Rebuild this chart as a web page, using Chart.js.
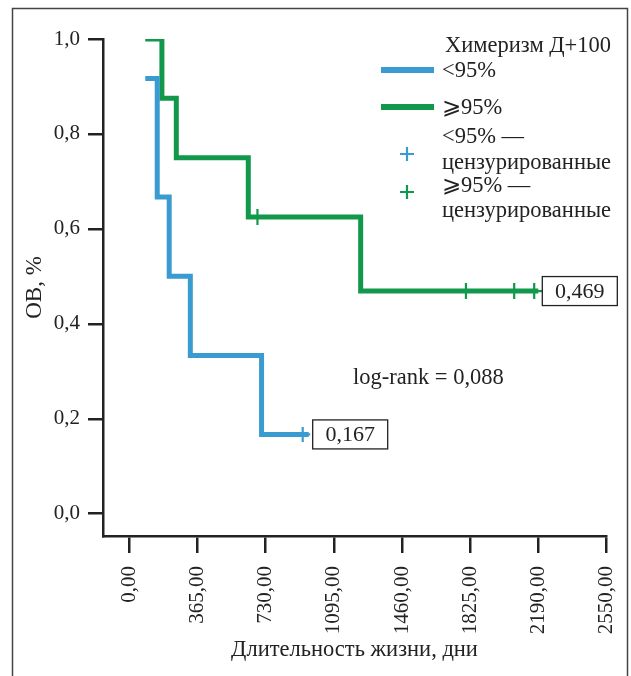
<!DOCTYPE html>
<html>
<head>
<meta charset="utf-8">
<script src="https://cdn.jsdelivr.net/npm/chart.js@4"></script>
<style>
  html, body { margin: 0; padding: 0; background: #fff; }
  #wrap { width: 631px; height: 676px; position: relative; }
</style>
</head>
<body>
<div id="wrap"><canvas id="c" width="631" height="676"></canvas></div>
<script>
// ---- Data ----
const lowTimes = [86, 150, 214, 327, 708, 960];          // <95%, days
const lowSurv  = [0.917, 0.667, 0.5, 0.333, 0.167, 0.167];
const lowCensorTimes = [928];
const lowCensorSurv  = [0.167];

const highTimes = [86, 175, 252, 637, 1238, 2188];       // >=95%, days
const highSurv  = [1.0, 0.875, 0.75, 0.625, 0.469, 0.469];
const highCensorTimes = [686, 1801, 2059, 2166];
const highCensorSurv  = [0.625, 0.469, 0.469, 0.469];

const xTickValues = [0, 365, 730, 1095, 1460, 1825, 2190, 2550];
const yTickValues = [0, 0.2, 0.4, 0.6, 0.8, 1.0];

const legendTitle = 'Химеризм Д+100';
const labelLow = '<95%';
const labelHigh = '⩾95%';
const labelLowCens = ['<95% —', 'цензурированные'];
const labelHighCens = ['⩾95% —', 'цензурированные'];
const logRankText = 'log-rank = 0,088';
const xTitle = 'Длительность жизни, дни';
const yTitle = 'ОВ, %';

const BLUE = '#3a9bd0';
const GREEN = '#12984a';
const INK = '#222';
const FONT = '"Liberation Serif", "Times New Roman", serif';

const toPts = (xs, ys) => xs.map((x, i) => ({ x: x, y: ys[i] }));
const fmt = (v, d) => v.toFixed(d).replace('.', ',');

const overlay = {
  id: 'overlay',
  afterDraw(chart) {
    const ctx = chart.ctx;
    const xs = chart.scales.x, ys = chart.scales.y;
    ctx.save();
    // outer frame
    ctx.strokeStyle = '#444';
    ctx.lineWidth = 1.5;
    ctx.strokeRect(12.5, 8.5, 615, 700);

    // end value boxes
    const boxes = [
      { t: lowTimes[lowTimes.length - 1], s: lowSurv[lowSurv.length - 1] },
      { t: highTimes[highTimes.length - 1], s: highSurv[highSurv.length - 1] }
    ];
    ctx.font = '22px ' + FONT;
    boxes.forEach(b => {
      const px = xs.getPixelForValue(b.t) + 4;
      const py = ys.getPixelForValue(b.s);
      const w = 75, h = 29;
      ctx.fillStyle = '#fff';
      ctx.fillRect(px, py - h / 2, w, h);
      ctx.strokeStyle = INK;
      ctx.lineWidth = 1.3;
      ctx.strokeRect(px, py - h / 2, w, h);
      ctx.fillStyle = INK;
      ctx.textAlign = 'center';
      ctx.textBaseline = 'middle';
      ctx.fillText(fmt(b.s, 3), px + w / 2, py + 1);
    });

    // log-rank text
    ctx.fillStyle = INK;
    ctx.textAlign = 'left';
    ctx.textBaseline = 'middle';
    ctx.font = '22.5px ' + FONT;
    ctx.fillText(logRankText, 353, 378);

    // legend
    ctx.fillText(legendTitle, 445, 46);
    ctx.lineCap = 'butt';
    ctx.lineWidth = 6;
    ctx.strokeStyle = BLUE;
    ctx.beginPath(); ctx.moveTo(381, 70); ctx.lineTo(434, 70); ctx.stroke();
    ctx.strokeStyle = GREEN;
    ctx.beginPath(); ctx.moveTo(381, 107); ctx.lineTo(434, 107); ctx.stroke();
    ctx.fillText(labelLow, 442, 71);
    ctx.fillText(labelHigh, 442, 108);
    ctx.fillText(labelLowCens[0], 442, 137);
    ctx.fillText(labelLowCens[1], 442, 163);
    ctx.fillText(labelHighCens[0], 442, 186);
    ctx.fillText(labelHighCens[1], 442, 211);
    const cross = (cx, cy, col) => {
      ctx.strokeStyle = col; ctx.lineWidth = 2.2;
      ctx.beginPath();
      ctx.moveTo(cx - 7, cy); ctx.lineTo(cx + 7, cy);
      ctx.moveTo(cx, cy - 7); ctx.lineTo(cx, cy + 7);
      ctx.stroke();
    };
    cross(407, 154, BLUE);
    cross(407, 192, GREEN);
    ctx.restore();
  }
};

new Chart(document.getElementById('c'), {
  type: 'line',
  data: {
    datasets: [
      {
        label: labelLow,
        data: toPts(lowTimes, lowSurv),
        stepped: 'before',
        borderColor: BLUE,
        borderWidth: 5,
        pointRadius: 0,
        fill: false,
        borderJoinStyle: 'miter',
        borderCapStyle: 'butt'
      },
      {
        label: labelHigh,
        data: toPts(highTimes, highSurv),
        stepped: 'before',
        borderColor: GREEN,
        borderWidth: 5,
        pointRadius: 0,
        fill: false,
        borderJoinStyle: 'miter',
        borderCapStyle: 'butt'
      },
      {
        label: labelLowCens.join(' '),
        data: toPts(lowCensorTimes, lowCensorSurv),
        showLine: false,
        pointStyle: 'cross',
        pointRadius: 7.5,
        pointBorderWidth: 2.2,
        pointBorderColor: BLUE,
        pointBackgroundColor: BLUE
      },
      {
        label: labelHighCens.join(' '),
        data: toPts(highCensorTimes, highCensorSurv),
        showLine: false,
        pointStyle: 'cross',
        pointRadius: 8,
        pointBorderWidth: 2.2,
        pointBorderColor: GREEN,
        pointBackgroundColor: GREEN
      }
    ]
  },
  options: {
    responsive: false,
    animation: false,
    layout: { padding: { top: 39, right: 25, left: 0, bottom: 0 } },
    plugins: { legend: { display: false }, tooltip: { enabled: false } },
    scales: {
      x: {
        type: 'linear',
        min: -140,
        max: 2550,
        afterBuildTicks: s => { s.ticks = xTickValues.map(v => ({ value: v })); },
        afterFit: s => { s.height = 140; s.paddingLeft = 0; s.paddingRight = 0; },
        border: { display: true, color: INK, width: 2.5 },
        grid: { drawOnChartArea: false, drawTicks: true, tickLength: 17, tickColor: INK, lineWidth: 2.5 },
        ticks: {
          autoSkip: false,
          maxRotation: 90,
          minRotation: 90,
          padding: 13,
          color: INK,
          font: { family: FONT, size: 21 },
          callback: v => fmt(v, 2)
        },
        title: {
          display: true,
          text: xTitle,
          color: INK,
          font: { family: FONT, size: 22.5 },
          padding: { top: 0, bottom: 12 }
        }
      },
      y: {
        type: 'linear',
        min: -0.047,
        max: 1.0,
        afterBuildTicks: s => { s.ticks = yTickValues.map(v => ({ value: v })); },
        afterFit: s => { s.width = 103; s.paddingTop = 0; s.paddingBottom = 0; },
        border: { display: true, color: INK, width: 2.5 },
        grid: { drawOnChartArea: false, drawTicks: true, tickLength: 15, tickColor: INK, lineWidth: 2.5 },
        ticks: {
          padding: 8,
          color: INK,
          font: { family: FONT, size: 21 },
          callback: v => fmt(v, 1)
        },
        title: {
          display: true,
          text: yTitle,
          color: INK,
          font: { family: FONT, size: 23 },
          padding: { top: 21, bottom: 0 }
        }
      }
    }
  },
  plugins: [overlay]
});
</script>
</body>
</html>
